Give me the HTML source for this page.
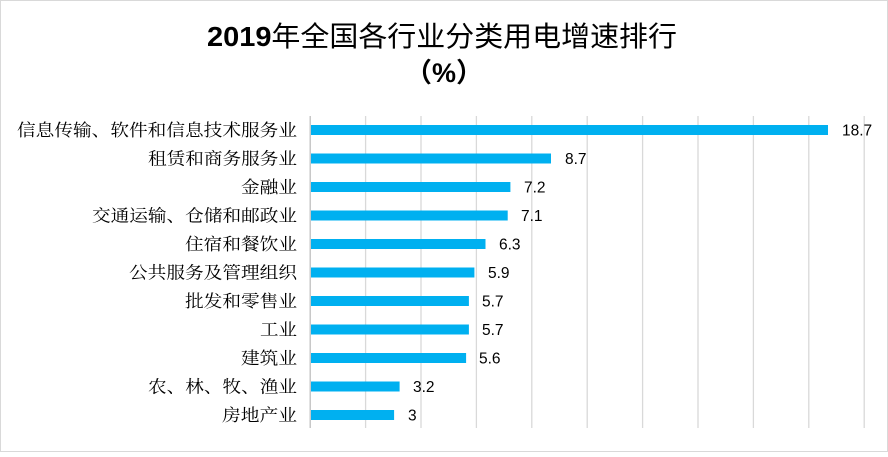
<!DOCTYPE html>
<html><head><meta charset="utf-8"><style>
html,body{margin:0;padding:0;background:#fff;}
body{width:888px;height:452px;overflow:hidden;}
</style></head><body>
<svg width="888" height="452" xmlns="http://www.w3.org/2000/svg">
<rect x="0.5" y="0.5" width="887" height="451" fill="#fff" stroke="#d9d9d9" stroke-width="1"/>
<text x="207" y="46" textLength="470" lengthAdjust="spacingAndGlyphs" font-family="'Liberation Sans','Noto Sans CJK SC',sans-serif" font-size="28" fill="#000"><tspan font-weight="bold">2019</tspan>年全国各行业分类用电增速排行</text>
<text x="444" y="82" text-anchor="middle" font-family="'Liberation Sans','Noto Sans CJK SC',sans-serif" font-size="27" font-weight="bold" fill="#000">（%）</text>
<g stroke="#d9d9d9" stroke-width="1.3">
<line x1="365.6" y1="116" x2="365.6" y2="428"/>
<line x1="421" y1="116" x2="421" y2="428"/>
<line x1="476.4" y1="116" x2="476.4" y2="428"/>
<line x1="531.8" y1="116" x2="531.8" y2="428"/>
<line x1="587.2" y1="116" x2="587.2" y2="428"/>
<line x1="642.6" y1="116" x2="642.6" y2="428"/>
<line x1="698" y1="116" x2="698" y2="428"/>
<line x1="753.4" y1="116" x2="753.4" y2="428"/>
<line x1="808.8" y1="116" x2="808.8" y2="428"/>
<line x1="864.2" y1="116" x2="864.2" y2="428"/>
</g>
<line x1="310.2" y1="116" x2="310.2" y2="428" stroke="#bfbfbf" stroke-width="1.3"/>
<g fill="#00b0f0">
<rect x="311" y="125" width="517" height="10"/>
<rect x="311" y="153.5" width="240" height="10"/>
<rect x="311" y="182" width="199.4" height="10"/>
<rect x="311" y="210.5" width="196.7" height="10"/>
<rect x="311" y="239" width="174.5" height="10"/>
<rect x="311" y="267.5" width="163.4" height="10"/>
<rect x="311" y="296" width="157.9" height="10"/>
<rect x="311" y="324.5" width="157.9" height="10"/>
<rect x="311" y="353" width="155.1" height="10"/>
<rect x="311" y="381.5" width="88.6" height="10"/>
<rect x="311" y="410" width="83.1" height="10"/>
</g>
<g font-family="'Liberation Serif','Noto Serif CJK SC',serif" font-size="17" fill="#000" text-anchor="end">
<text x="297" y="136" textLength="280" lengthAdjust="spacingAndGlyphs">信息传输、软件和信息技术服务业</text>
<text x="297" y="164.5" textLength="149" lengthAdjust="spacingAndGlyphs">租赁和商务服务业</text>
<text x="297" y="193" textLength="56" lengthAdjust="spacingAndGlyphs">金融业</text>
<text x="297" y="221.5" textLength="205" lengthAdjust="spacingAndGlyphs">交通运输、仓储和邮政业</text>
<text x="297" y="250" textLength="112" lengthAdjust="spacingAndGlyphs">住宿和餐饮业</text>
<text x="297" y="278.5" textLength="168" lengthAdjust="spacingAndGlyphs">公共服务及管理组织</text>
<text x="297" y="307" textLength="112" lengthAdjust="spacingAndGlyphs">批发和零售业</text>
<text x="297" y="335.5" textLength="37" lengthAdjust="spacingAndGlyphs">工业</text>
<text x="297" y="364" textLength="56" lengthAdjust="spacingAndGlyphs">建筑业</text>
<text x="297" y="392.5" textLength="149" lengthAdjust="spacingAndGlyphs">农、林、牧、渔业</text>
<text x="297" y="421" textLength="75" lengthAdjust="spacingAndGlyphs">房地产业</text>
</g>
<g font-family="'Liberation Sans',sans-serif" font-size="15.5" fill="#000">
<text x="842" y="135.5">18.7</text>
<text x="565" y="164">8.7</text>
<text x="524" y="192.5">7.2</text>
<text x="521" y="221">7.1</text>
<text x="499" y="249.5">6.3</text>
<text x="488" y="278">5.9</text>
<text x="482" y="306.5">5.7</text>
<text x="482" y="335">5.7</text>
<text x="479" y="363.5">5.6</text>
<text x="413" y="392">3.2</text>
<text x="408" y="420.5">3</text>
</g>
</svg>
</body></html>
